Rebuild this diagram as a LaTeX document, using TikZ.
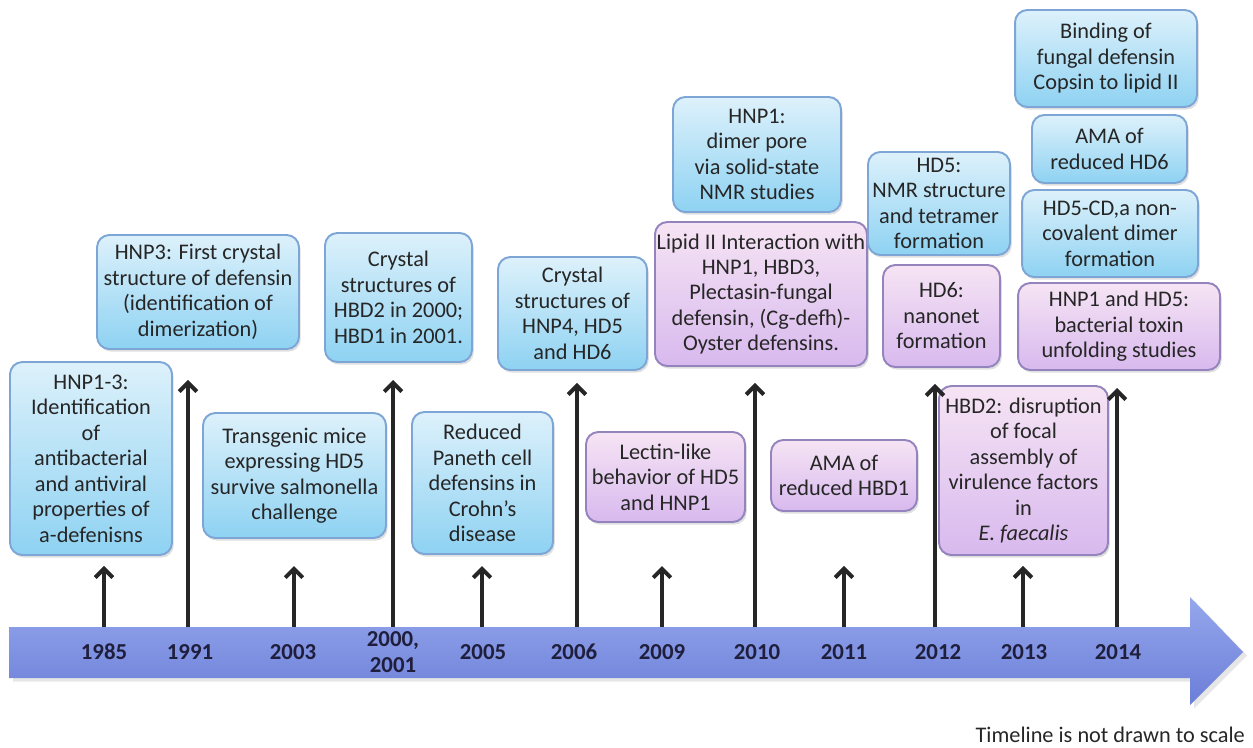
\documentclass[tikz,border=0pt]{standalone}
\usepackage{fontspec}
\setmainfont{Carlito}
\usepackage{tikz}
\usetikzlibrary{arrows.meta, positioning, calc, shadows}
\definecolor{boxblueTop}{HTML}{DDF1FB}
\definecolor{boxblueBot}{HTML}{8ED2F2}
\definecolor{boxblueLine}{HTML}{7DA6D6}
\definecolor{boxpinkTop}{HTML}{F6E4F4}
\definecolor{boxpinkBot}{HTML}{D8B9EE}
\definecolor{boxpinkLine}{HTML}{9484BE}
\definecolor{lineTop}{HTML}{95A7EC}
\definecolor{lineBot}{HTML}{6B7ED8}
\definecolor{inktext}{HTML}{262626}
\definecolor{inkyear}{HTML}{1F1F3D}
\tikzset{
  evbox/.style={
    rectangle, rounded corners=7pt, line width=1.1pt, align=center, inner sep=1pt,
    text=inktext, font=\fontsize{12.7}{14.5}\selectfont,
    drop shadow={opacity=0.25, shadow xshift=1pt, shadow yshift=-1.5pt}
  },
  blueev/.style={evbox, draw=boxblueLine, top color=boxblueTop, bottom color=boxblueBot},
  pinkev/.style={evbox, draw=boxpinkLine, top color=boxpinkTop, bottom color=boxpinkBot},
  tick/.style={-{Straight Barb[length=5pt, width=10pt]}, line width=2.3pt, draw=black!85},
  year/.style={font=\fontsize{13}{14.5}\selectfont\bfseries, text=inkyear, align=center}
}

\begin{document}
\begin{tikzpicture}[x=0.02cm, y=-0.02cm]
    \useasboundingbox (0,0) rectangle (1253,747);

    % Timeline arrow
    \shade[top color=lineTop, bottom color=lineBot, drop shadow={opacity=0.2, shadow yshift=-2pt}]
      (9,627) -- (1190,627) -- (1190,597) -- (1243,652) -- (1190,705) -- (1190,678) -- (9,678) -- cycle;

    % Years
    \node[year] (y1985) at (104,652) {1985};
    \node[year] (y1991) at (190,652) {1991};
    \node[year] (y2003) at (293,652) {2003};
    \node[year] (y2000) at (393,652) {2000,\\2001};
    \node[year] (y2005) at (483,652) {2005};
    \node[year] (y2006) at (574,652) {2006};
    \node[year] (y2009) at (662,652) {2009};
    \node[year] (y2010) at (757,652) {2010};
    \node[year] (y2011) at (844,652) {2011};
    \node[year] (y2012) at (938,652) {2012};
    \node[year] (y2013) at (1024,652) {2013};
    \node[year] (y2014) at (1118,652) {2014};

    \coordinate (t1985) at (104,627);
    \coordinate (t1991) at (188,627);
    \coordinate (t2003) at (294,627);
    \coordinate (t2000) at (393,627);
    \coordinate (t2005) at (482,627);
    \coordinate (t2006) at (577,627);
    \coordinate (t2009) at (662,627);
    \coordinate (t2010) at (755,627);
    \coordinate (t2011) at (844,627);
    \coordinate (t2012) at (935,627);
    \coordinate (t2013) at (1023,627);
    \coordinate (t2014) at (1117,627);

    % Events
    \node[blueev, minimum width=3.24cm, minimum height=3.86cm] (hnp13) at (91,458.5)
      {HNP1-3:\\Identification\\of\\antibacterial\\and antiviral\\properties of\\a-defenisns};
    \node[blueev, minimum width=4.04cm, minimum height=2.28cm] (hnp3) at (198,292)
      {HNP3: First crystal\\structure of defensin\\(identification of\\dimerization)};
    \node[blueev, minimum width=3.66cm, minimum height=2.50cm] (transgenic) at (294.5,475.5)
      {Transgenic mice\\expressing HD5\\survive salmonella\\challenge};
    \node[blueev, minimum width=2.94cm, minimum height=2.58cm] (hbdcryst) at (398.5,297.5)
      {Crystal\\structures of\\HBD2 in 2000;\\HBD1 in 2001.};
    \node[blueev, minimum width=2.82cm, minimum height=2.84cm] (paneth) at (482.5,483)
      {Reduced\\Paneth cell\\defensins in\\Crohn’s\\disease};
    \node[blueev, minimum width=2.98cm, minimum height=2.26cm] (hnpcryst) at (572.5,313.5)
      {Crystal\\structures of\\HNP4, HD5\\and HD6};
    \node[pinkev, minimum width=3.18cm, minimum height=1.80cm] (lectin) at (665.5,477)
      {Lectin-like\\behavior of HD5\\and HNP1};
    \node[blueev, minimum width=3.36cm, minimum height=2.30cm] (pore) at (757,154.5)
      {HNP1:\\dimer pore\\via solid-state\\NMR studies};
    \node[pinkev, minimum width=4.24cm, minimum height=2.88cm] (lipid) at (761,294)
      {Lipid II Interaction with\\HNP1, HBD3,\\Plectasin-fungal\\defensin, (Cg-defh)-\\Oyster defensins.};
    \node[pinkev, minimum width=2.92cm, minimum height=1.42cm] (amahbd) at (844,475.5)
      {AMA of\\reduced HBD1};
    \node[blueev, minimum width=2.84cm, minimum height=2.06cm] (nmr) at (939,203.5)
      {HD5:\\NMR structure\\and tetramer\\formation};
    \node[pinkev, minimum width=2.34cm, minimum height=2.04cm] (nanonet) at (941.5,316)
      {HD6:\\nanonet\\formation};
    \node[pinkev, minimum width=3.38cm, minimum height=3.38cm] (focal) at (1023.5,470.5)
      {HBD2: disruption\\of focal\\assembly of\\virulence factors\\in\\\textit{E. faecalis}};
    \node[blueev, minimum width=3.64cm, minimum height=1.94cm] (copsin) at (1106,58.5)
      {Binding of\\fungal defensin\\Copsin to lipid II};
    \node[blueev, minimum width=3.10cm, minimum height=1.36cm] (amahd) at (1109.5,149)
      {AMA of\\reduced HD6};
    \node[blueev, minimum width=3.52cm, minimum height=1.74cm] (dimer) at (1110,233.5)
      {HD5-CD,a non-\\covalent dimer\\formation};
    \node[pinkev, minimum width=4.04cm, minimum height=1.74cm] (toxin) at (1119,326.5)
      {HNP1 and HD5:\\bacterial toxin\\unfolding studies};

    % Ticks
    \draw[tick, shorten >=5.7pt] (t1985) -- (t1985 |- hnp13.south);
    \draw[tick, shorten >=17pt] (t1991) -- (t1991 |- hnp3.south);
    \draw[tick, shorten >=15.4pt] (t2003) -- (t2003 |- transgenic.south);
    \draw[tick, shorten >=9.7pt] (t2000) -- (t2000 |- hbdcryst.south);
    \draw[tick, shorten >=6.3pt] (t2005) -- (t2005 |- paneth.south);
    \draw[tick, shorten >=6.8pt] (t2006) -- (t2006 |- hnpcryst.south);
    \draw[tick, shorten >=24.5pt] (t2009) -- (t2009 |- lectin.south);
    \draw[tick, shorten >=9.1pt] (t2010) -- (t2010 |- lipid.south);
    \draw[tick, shorten >=30.7pt] (t2011) -- (t2011 |- amahbd.south);
    \draw[tick, shorten >=9.1pt] (t2012) -- (t2012 |- nanonet.south);
    \draw[tick, shorten >=5.7pt] (t2013) -- (t2013 |- focal.south);
    \draw[tick, shorten >=9.7pt] (t2014) -- (t2014 |- toxin.south);

    \node[anchor=east, text=inktext, font=\fontsize{12.7}{14.5}\selectfont] (note) at (1251,735)
      {Timeline is not drawn to scale};
\end{tikzpicture}
\end{document}
